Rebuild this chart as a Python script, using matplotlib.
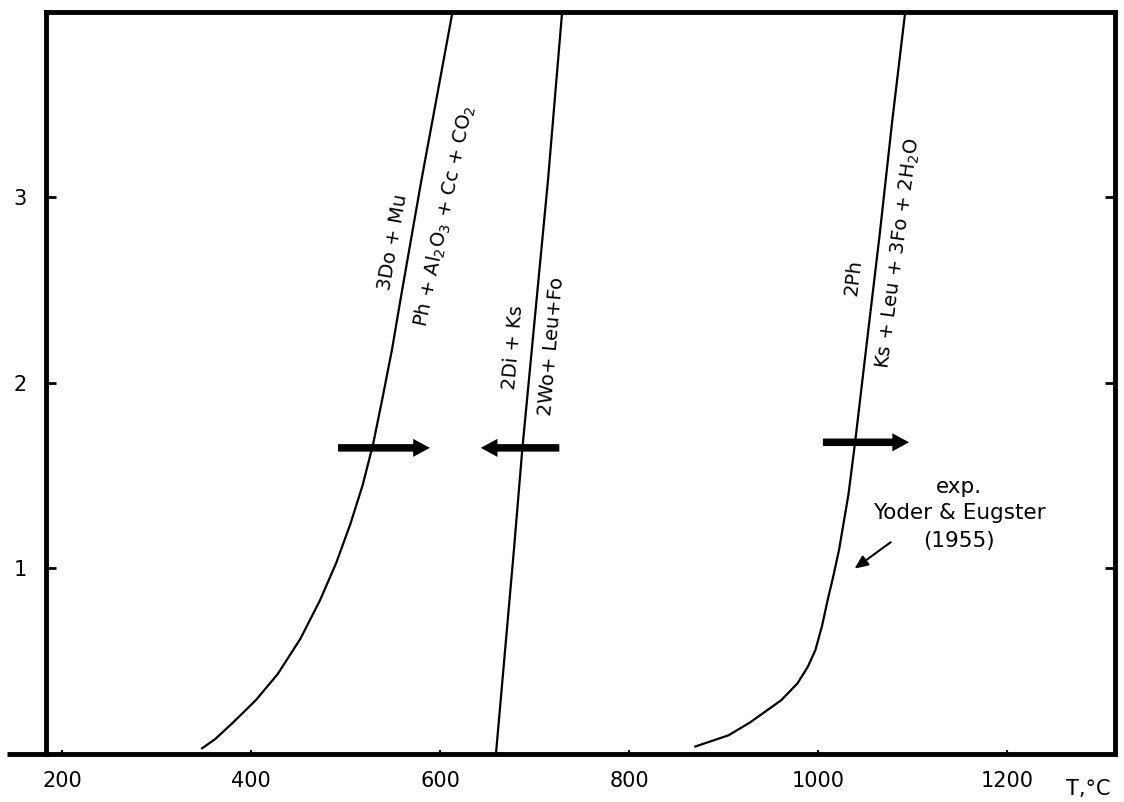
import matplotlib.pyplot as plt
from matplotlib.patches import FancyArrowPatch

# Curvas de equilibrio (T en °C, P en kbar aprox.)
t_do_mu = [348, 362, 381, 405, 428, 452, 473, 490, 505, 518, 529, 539, 549, 558, 580, 592, 613]
p_do_mu = [0.03, 0.08, 0.17, 0.29, 0.43, 0.62, 0.83, 1.03, 1.24, 1.45, 1.67, 1.92, 2.18, 2.45, 3.09, 3.42, 4.0]

t_di_ks = [659, 678, 687, 702, 714, 729]
p_di_ks = [0.0, 1.10, 1.65, 2.45, 3.09, 4.0]

t_ph = [870, 905, 928, 961, 978, 989, 997, 1004, 1010, 1016, 1022, 1032, 1039, 1051, 1065, 1078, 1092]
p_ph = [0.04, 0.10, 0.17, 0.29, 0.38, 0.47, 0.56, 0.69, 0.83, 0.96, 1.10, 1.40, 1.68, 2.20, 2.80, 3.40, 4.0]

# Flechas (inicio, fin, altura)
flechas = [(489, 592, 1.65), (729, 640, 1.65), (1002, 1099, 1.68)]

x_ticks = [200, 400, 600, 800, 1000, 1200]
y_ticks = [1, 2, 3]

fig = plt.figure(figsize=(11.24, 8.02), dpi=100)
ax = fig.add_axes([0.041, 0.06, 0.951, 0.925])

ax.plot(t_do_mu, p_do_mu, color='black', lw=1.6)
ax.plot(t_di_ks, p_di_ks, color='black', lw=1.6)
ax.plot(t_ph, p_ph, color='black', lw=1.6)

for x0, x1, y in flechas:
    ax.add_patch(FancyArrowPatch((x0, y), (x1, y),
                                 arrowstyle='simple,tail_width=0.27,head_width=0.65,head_length=0.6',
                                 mutation_scale=20, color='black', lw=0))

# Etiquetas de reacciones
fs = 14
ax.text(550, 2.76, '3Do + Mu', rotation=80, ha='center', va='center', fontsize=fs)
ax.text(605, 2.9, r'Ph + Al$_2$O$_3$ + Cc + CO$_2$', rotation=78, ha='center', va='center', fontsize=fs)
ax.text(677, 2.19, '2Di + Ks', rotation=85, ha='center', va='center', fontsize=fs)
ax.text(718, 2.2, '2Wo+ Leu+Fo', rotation=85, ha='center', va='center', fontsize=fs)
ax.text(1037, 2.57, '2Ph', rotation=83, ha='center', va='center', fontsize=fs)
ax.text(1085, 2.70, r'Ks + Leu + 3Fo + 2H$_2$O', rotation=82.5, ha='center', va='center', fontsize=fs)

ax.text(1149, 1.44, 'exp.', ha='center', va='center', fontsize=15.5)
ax.text(1149, 1.30, 'Yoder & Eugster', ha='center', va='center', fontsize=15.5)
ax.text(1149, 1.15, '(1955)', ha='center', va='center', fontsize=15.5)
ax.annotate('', xy=(1036, 0.99), xytext=(1079, 1.15),
            arrowprops=dict(arrowstyle='-|>,head_length=0.8,head_width=0.35', color='black', lw=1.5))

# Ejes
ax.set_xlim(183, 1314)
ax.set_ylim(0, 4)
ax.set_xticks(x_ticks)
ax.set_yticks(y_ticks)
ax.tick_params(axis='x', direction='in', length=3, width=1.5, pad=12, labelsize=15)
ax.tick_params(axis='y', direction='in', length=7, width=2, pad=14, labelsize=15,
               right=True)
for s in ax.spines.values():
    s.set_linewidth(3.5)
ax.plot([142, 183], [0, 0], color='black', lw=3.5, clip_on=False, solid_capstyle='butt')

ax.text(1286, -0.19, 'T,°C', ha='center', va='center', fontsize=15, clip_on=False)

plt.savefig('out.png', dpi=100)
